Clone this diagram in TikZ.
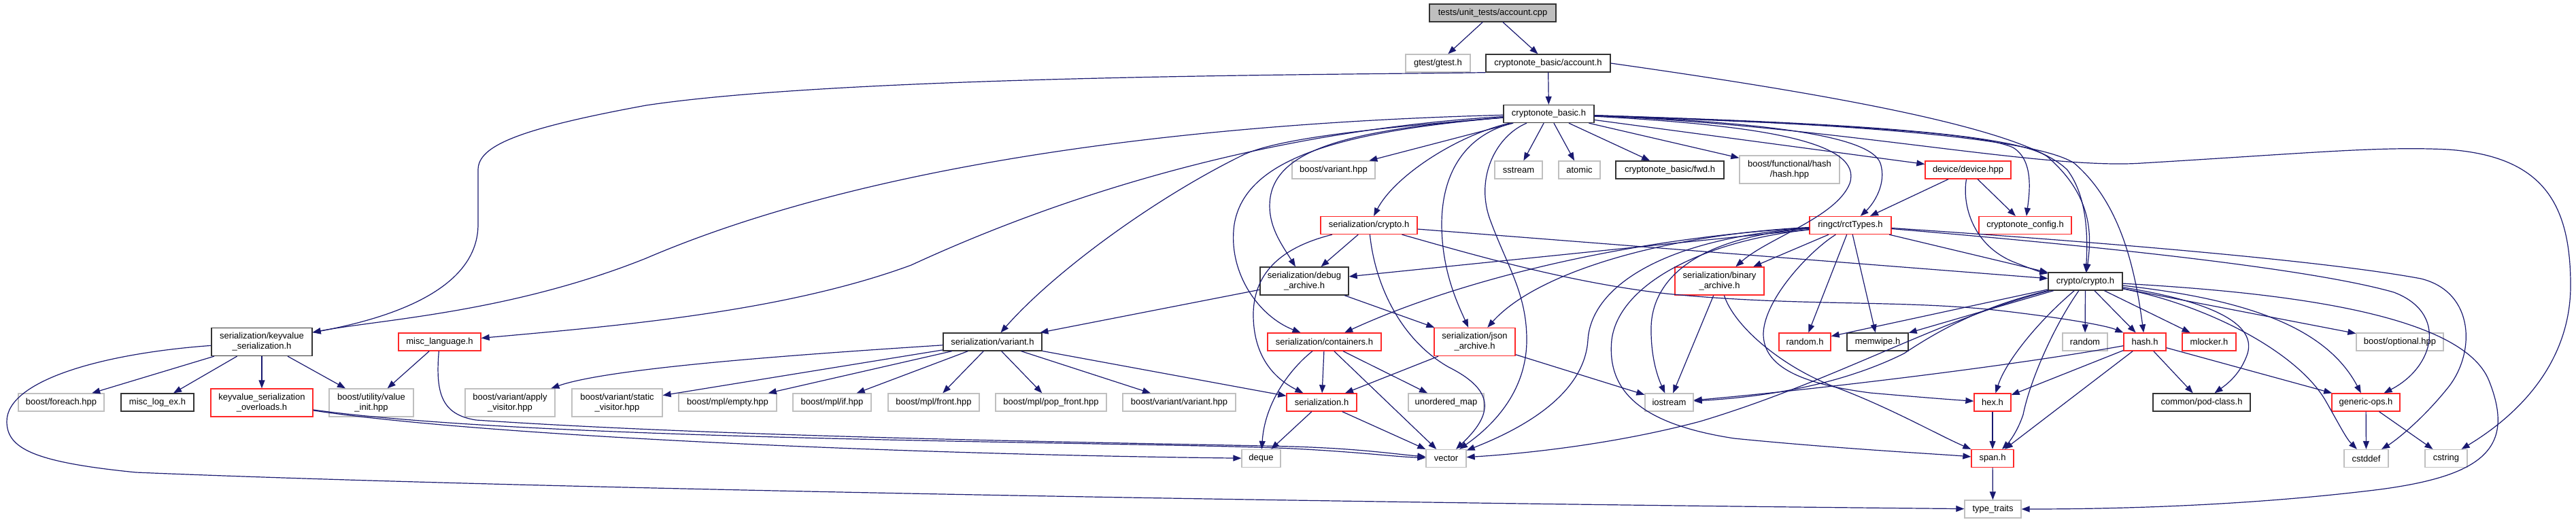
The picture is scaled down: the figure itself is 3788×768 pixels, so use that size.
\documentclass[tikz,border=0pt]{standalone}
\usepackage{fontspec}
\setmainfont{Liberation Sans}
\usetikzlibrary{arrows.meta}
\definecolor{mblue}{RGB}{25,25,112}
\definecolor{grey75}{RGB}{191,191,191}
\definecolor{nred}{RGB}{255,40,40}
\begin{document}
\begin{tikzpicture}[x=1pt,y=-1pt,
 nd/.style={rectangle, inner sep=0pt, minimum height=26pt, font=\fontsize{13}{15}\selectfont, line width=1.3pt, fill=white, align=center},
 gn/.style={nd, draw=grey75},
 bn/.style={nd, draw=black!80},
 rn/.style={nd, draw=nred},
 rootn/.style={nd, draw=black!80, fill=grey75},
 two/.style={minimum height=41pt},
 e/.style={draw=mblue, line width=1.2pt, -{Triangle[length=12pt,width=9pt]}}]
\useasboundingbox (0,0) rectangle (3788,768);
\fill[white] (0,0) rectangle (3788,768);
% row 0-2
\node[rootn, minimum width=186pt] (root) at (2195,19) {tests/unit\_tests/account.cpp};
\node[gn, minimum width=95pt] (gtest) at (2114.5,93) {gtest/gtest.h};
\node[bn, minimum width=183pt] (acc) at (2276.5,93) {cryptonote\_basic/account.h};
\node[bn, minimum width=133pt] (cb) at (2277.5,167.5) {cryptonote\_basic.h};
% row 3
\node[gn, minimum width=122pt] (bvar) at (1961,250) {boost/variant.hpp};
\node[gn, minimum width=70pt] (sstream) at (2233,250) {sstream};
\node[gn, minimum width=61pt] (atomic) at (2322.5,250) {atomic};
\node[bn, minimum width=159pt] (fwd) at (2455.5,250) {cryptonote\_basic/fwd.h};
\node[gn, two, minimum width=147pt] (bfh) at (2631.5,249.5) {boost/functional/hash\\/hash.hpp};
\node[rn, minimum width=126pt] (device) at (2894,250) {device/device.hpp};
% row 4
\node[rn, minimum width=142pt] (scrypto) at (2013,331.5) {serialization/crypto.h};
\node[rn, minimum width=120pt] (rct) at (2721,331.5) {ringct/rctTypes.h};
\node[rn, minimum width=136pt] (config) at (2978,331.5) {cryptonote\_config.h};
% row 5
\node[bn, two, minimum width=130pt] (debug) at (1918,413.5) {serialization/debug\\\_archive.h};
\node[rn, two, minimum width=131pt] (binary) at (2528.5,413.5) {serialization/binary\\\_archive.h};
\node[bn, minimum width=109pt] (crypto) at (3066.5,414) {crypto/crypto.h};
% row 6
\node[bn, two, minimum width=148pt] (kv) at (385,503) {serialization/keyvalue\\\_serialization.h};
\node[rn, minimum width=121pt] (misclang) at (646.5,503) {misc\_language.h};
\node[bn, minimum width=145pt] (svar) at (1459.5,503) {serialization/variant.h};
\node[rn, minimum width=167pt] (cont) at (1947.5,503) {serialization/containers.h};
\node[rn, two, minimum width=119pt] (json) at (2168.5,503) {serialization/json\\\_archive.h};
\node[rn, minimum width=76pt] (randomh) at (2654,503) {random.h};
\node[bn, minimum width=90pt] (memwipe) at (2761,503) {memwipe.h};
\node[gn, minimum width=66pt] (random) at (3066,503) {random};
\node[rn, minimum width=62pt] (hash) at (3154,503) {hash.h};
\node[rn, minimum width=79pt] (mlocker) at (3248.5,503) {mlocker.h};
\node[gn, minimum width=128pt] (optional) at (3529,503) {boost/optional.hpp};
% row 7
\node[gn, minimum width=126pt] (foreach) at (90,592) {boost/foreach.hpp};
\node[bn, minimum width=107pt] (logex) at (231.5,592) {misc\_log\_ex.h};
\node[rn, two, minimum width=150pt] (overloads) at (385,592.5) {keyvalue\_serialization\\\_overloads.h};
\node[gn, two, minimum width=124pt] (valinit) at (546,592.5) {boost/utility/value\\\_init.hpp};
\node[gn, two, minimum width=132pt] (applyv) at (750,592.5) {boost/variant/apply\\\_visitor.hpp};
\node[gn, two, minimum width=133pt] (staticv) at (907.5,592.5) {boost/variant/static\\\_visitor.hpp};
\node[gn, minimum width=144pt] (mplempty) at (1070,592) {boost/mpl/empty.hpp};
\node[gn, minimum width=115pt] (mplif) at (1223.5,592) {boost/mpl/if.hpp};
\node[gn, minimum width=134pt] (mplfront) at (1373,592) {boost/mpl/front.hpp};
\node[gn, minimum width=163pt] (mplpop) at (1545.5,592) {boost/mpl/pop\_front.hpp};
\node[gn, minimum width=166pt] (varvar) at (1734,592) {boost/variant/variant.hpp};
\node[rn, minimum width=103pt] (ser) at (1943.5,592) {serialization.h};
\node[gn, minimum width=111pt] (umap) at (2126.5,592) {unordered\_map};
\node[gn, minimum width=71pt] (iostream) at (2454.5,592) {iostream};
\node[rn, minimum width=54pt] (hex) at (2930,592) {hex.h};
\node[bn, minimum width=143pt] (pod) at (3237.5,592) {common/pod-class.h};
\node[rn, minimum width=100pt] (generic) at (3479,592) {generic-ops.h};
% row 8-9
\node[gn, minimum width=57pt] (deque) at (1854.5,674.5) {deque};
\node[gn, minimum width=59pt] (vector) at (2126.5,674.5) {vector};
\node[rn, minimum width=62pt] (span) at (2930,674.5) {span.h};
\node[gn, minimum width=65pt] (cstddef) at (3479.5,674.5) {cstddef};
\node[gn, minimum width=62pt] (cstring) at (3597,674.5) {cstring};
\node[gn, minimum width=83pt] (ttraits) at (2930.5,749) {type\_traits};

% ---- edges
\draw[e] (root) -- (gtest);
\draw[e] (root) -- (acc);
\draw[e] (acc) -- (cb);
\draw[e] (acc.south west) .. controls (2000,110) and (1250,110) .. (950,155) .. controls (760,190) and (703,215) .. (703,250) -- (703,330) .. controls (703,420) and (590,465) .. (kv);
\draw[e] (acc.east) .. controls (2700,140) and (2980,190) .. (3040,250) .. controls (3070,290) and (3070,350) .. (crypto);
% cryptonote_basic.h
\draw[e] (cb) -- (bvar);
\draw[e] (cb) -- (sstream);
\draw[e] (cb) -- (atomic);
\draw[e] (cb) -- (fwd);
\draw[e] (cb) -- (bfh);
\draw[e] (cb) -- (device);
\draw[e] (cb) .. controls (2140,200) and (2050,260) .. (scrypto);
\draw[e] (cb) .. controls (2000,190) and (1880,215) .. (1868,290) .. controls (1862,330) and (1885,360) .. (debug);
\draw[e] (cb) .. controls (1950,195) and (1830,240) .. (1815,330) .. controls (1805,400) and (1850,465) .. (cont);
\draw[e] (cb) .. controls (2150,200) and (2120,260) .. (2120,330) .. controls (2120,400) and (2145,450) .. (json);
\draw[e] (cb) .. controls (2200,200) and (2170,260) .. (2190,320) .. controls (2215,390) and (2245,430) .. (2245,500) .. controls (2245,580) and (2190,630) .. (vector);
\draw[e] (cb) .. controls (2000,190) and (1880,205) .. (1830,227) .. controls (1700,290) and (1550,400) .. (svar);
\draw[e] (cb) .. controls (1900,190) and (1600,270) .. (1340,390) .. controls (1150,460) and (900,480) .. (misclang);
\draw[e] (cb) .. controls (1800,180) and (1300,230) .. (950,380) .. controls (750,460) and (560,470) .. (kv);
\draw[e] (cb) .. controls (2600,185) and (2740,210) .. (2720,270) .. controls (2700,320) and (2600,350) .. (binary);
\draw[e] (cb) .. controls (2600,180) and (2750,200) .. (2765,240) .. controls (2775,270) and (2755,300) .. (rct);
\draw[e] (cb) .. controls (2600,180) and (2900,190) .. (2960,217) .. controls (2990,235) and (2985,280) .. (config);
\draw[e] (cb) .. controls (2600,178) and (2950,190) .. (3010,230) .. controls (3080,290) and (3075,350) .. (crypto);
\draw[e] (cb) .. controls (2600,178) and (2980,195) .. (3050,240) .. controls (3120,300) and (3140,400) .. (hash);
\draw[e] (cb) .. controls (2700,185) and (3000,250) .. (3150,240) .. controls (3400,225) and (3500,215) .. (3600,220) .. controls (3740,230) and (3780,300) .. (3780,420) .. controls (3780,520) and (3720,600) .. (cstring);
% device
\draw[e] (device) -- (rct);
\draw[e] (device) -- (config);
\draw[e] (device) .. controls (2885,300) and (2900,360) .. (2960,385) .. controls (2985,395) and (3000,400) .. (crypto);
% serialization/crypto.h
\draw[e] (scrypto) -- (debug);
\draw[e] (scrypto) .. controls (1900,360) and (1845,390) .. (1843,460) .. controls (1842,530) and (1880,560) .. (ser);
\draw[e] (scrypto) .. controls (2022,420) and (2060,500) .. (2130,540) .. controls (2200,575) and (2195,610) .. (vector);
\draw[e] (scrypto) -- (crypto);
\draw[e] (scrypto) .. controls (2150,370) and (2300,415) .. (2450,432) .. controls (2650,452) and (2800,440) .. (2950,458) .. controls (3050,470) and (3100,480) .. (hash);
% rctTypes
\draw[e] (rct) -- (debug);
\draw[e] (rct) .. controls (2400,350) and (2150,410) .. (cont);
\draw[e] (rct) .. controls (2450,345) and (2260,400) .. (json);
\draw[e] (rct) .. controls (2450,350) and (2340,420) .. (2335,500) .. controls (2330,580) and (2240,630) .. (vector);
\draw[e] (rct) .. controls (2480,350) and (2430,420) .. (2428,480) .. controls (2427,530) and (2440,560) .. (iostream);
\draw[e] (rct) .. controls (2500,355) and (2380,420) .. (2370,500) .. controls (2362,580) and (2420,625) .. (2550,645) .. controls (2700,660) and (2850,668) .. (span);
\draw[e] (rct) -- (binary);
\draw[e] (rct) -- (randomh);
\draw[e] (rct) -- (memwipe);
\draw[e] (rct) .. controls (2660,370) and (2595,440) .. (2593,490) .. controls (2592,540) and (2650,565) .. (2750,578) .. controls (2830,585) and (2870,588) .. (hex);
\draw[e] (rct) -- (crypto);
\draw[e] (rct) .. controls (3000,350) and (3400,380) .. (3560,410) .. controls (3640,430) and (3640,520) .. (3600,570) .. controls (3560,620) and (3520,650) .. (cstddef);
\draw[e] (rct) .. controls (3000,355) and (3380,390) .. (3520,430) .. controls (3600,460) and (3580,540) .. (generic);
% crypto/crypto.h
\draw[e] (crypto) -- (random);
\draw[e] (crypto) -- (hash);
\draw[e] (crypto) -- (mlocker);
\draw[e] (crypto) -- (randomh);
\draw[e] (crypto) -- (memwipe);
\draw[e] (crypto) -- (optional);
\draw[e] (crypto) .. controls (3230,440) and (3320,470) .. (3305,520) .. controls (3295,550) and (3275,565) .. (pod);
\draw[e] (crypto) .. controls (3300,440) and (3420,480) .. (generic);
\draw[e] (crypto) .. controls (3250,450) and (3380,520) .. (3420,590) .. controls (3440,625) and (3450,645) .. (cstddef);
\draw[e] (crypto) .. controls (3350,430) and (3620,460) .. (3660,560) .. controls (3700,660) and (3650,700) .. (3500,720) .. controls (3300,745) and (3100,749) .. (ttraits);
\draw[e] (crypto) .. controls (3000,470) and (2950,530) .. (hex);
\draw[e] (crypto) .. controls (3020,480) and (2985,560) .. (2975,610) .. controls (2965,640) and (2950,655) .. (span);
\draw[e] (crypto) .. controls (2920,450) and (2860,480) .. (2800,520) .. controls (2700,570) and (2580,585) .. (iostream);
\draw[e] (crypto) .. controls (2850,470) and (2700,560) .. (2500,620) .. controls (2350,660) and (2200,670) .. (vector);
% hash.h
\draw[e] (hash) .. controls (2950,540) and (2650,575) .. (iostream);
\draw[e] (hash) -- (hex);
\draw[e] (hash) -- (span);
\draw[e] (hash) -- (pod);
\draw[e] (hash) -- (generic);
\draw[e] (hex) -- (span);
\draw[e] (span) -- (ttraits);
\draw[e] (generic) -- (cstddef);
\draw[e] (generic) -- (cstring);
% archives
\draw[e] (binary) -- (iostream);
\draw[e] (binary) .. controls (2550,480) and (2620,540) .. (2700,570) .. controls (2780,600) and (2850,640) .. (span);
\draw[e] (json) -- (ser);
\draw[e] (json) -- (iostream);
\draw[e] (debug) -- (json);
\draw[e] (debug) -- (svar);
% containers, serialization
\draw[e] (cont) -- (ser);
\draw[e] (cont) -- (vector);
\draw[e] (cont) -- (umap);
\draw[e] (cont) .. controls (1900,540) and (1860,590) .. (deque);
\draw[e] (ser) -- (deque);
\draw[e] (ser) -- (vector);
% variant
\draw[e] (svar) .. controls (1200,520) and (900,540) .. (applyv);
\draw[e] (svar) -- (staticv);
\draw[e] (svar) -- (mplempty);
\draw[e] (svar) -- (mplif);
\draw[e] (svar) -- (mplfront);
\draw[e] (svar) -- (mplpop);
\draw[e] (svar) -- (varvar);
\draw[e] (svar) -- (ser);
% keyvalue
\draw[e] (kv) -- (foreach);
\draw[e] (kv) -- (logex);
\draw[e] (kv) -- (overloads);
\draw[e] (kv) -- (valinit);
\draw[e] (kv) .. controls (150,520) and (10,560) .. (10,620) .. controls (10,660) and (50,680) .. (200,695) .. controls (800,720) and (2000,740) .. (ttraits);
\draw[e] (misclang) -- (valinit);
\draw[e] (misclang) .. controls (640,580) and (650,610) .. (700,618) .. controls (1100,645) and (1700,652) .. (1900,657) .. controls (2000,660) and (2050,668) .. (vector);
\draw[e] (overloads) .. controls (700,640) and (1300,668) .. (deque);
\draw[e] (overloads) .. controls (800,650) and (1700,650) .. (1900,660) .. controls (2000,665) and (2050,672) .. (vector);
\end{tikzpicture}
\end{document}
